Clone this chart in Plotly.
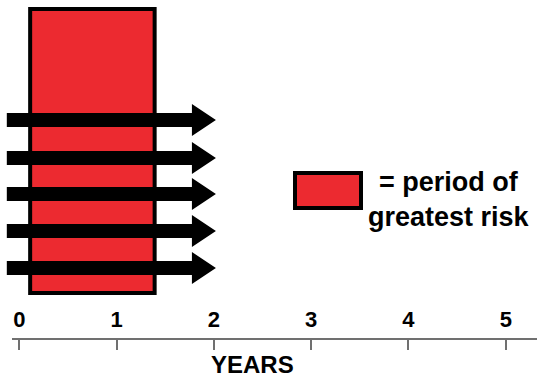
import plotly.graph_objects as go

# ---- data ----
year_ticks = [0, 1, 2, 3, 4, 5]
year_labels = ["0", "1", "2", "3", "4", "5"]
risk_start = 0.11      # years
risk_end = 1.39        # years
risk_low = 45          # vertical extent (arbitrary units above the axis)
risk_high = 329
arrow_start = -0.13    # years
arrow_end = 2.02       # years
arrow_rows = [218, 180, 144, 107, 70]
legend_text = "= period of<br>greatest risk"
axis_title = "YEARS"

# ---- styling ----
W, H = 537, 378
RED = "#EC2A30"
GREY = "#707070"
FONT = "Liberation Sans"
px_per_year = 97.26
zero_px = 19.45
axis_px = 338
shaft_half = 7
head_half = 16
head_len = 24 / px_per_year

x_range = [-zero_px / px_per_year, (W - zero_px) / px_per_year]
x2_left = 12
x2_range = [(x2_left - zero_px) / px_per_year, x_range[1]]

fig = go.Figure()

for r in arrow_rows:
    b = arrow_end - head_len
    xs = [arrow_start, b, b, arrow_end, b, b, arrow_start, arrow_start]
    ys = [r + shaft_half, r + shaft_half, r + head_half, r,
          r - head_half, r - shaft_half, r - shaft_half, r + shaft_half]
    fig.add_trace(go.Scatter(x=xs, y=ys, mode="lines", fill="toself",
                             fillcolor="black", line=dict(width=0, color="black"),
                             hoverinfo="skip", xaxis="x", yaxis="y"))

# axis trace (invisible point so the second subplot exists)
fig.add_trace(go.Scatter(x=[year_ticks[0]], y=[0], mode="markers",
                         marker=dict(opacity=0), hoverinfo="skip",
                         xaxis="x2", yaxis="y2"))

fig.add_shape(type="rect", xref="x", yref="y", x0=risk_start, x1=risk_end,
              y0=risk_low, y1=risk_high, fillcolor=RED,
              line=dict(color="black", width=4), layer="below")

# legend swatch
fig.add_shape(type="rect", xref="paper", yref="paper",
              x0=295 / W, x1=361 / W, y0=1 - 208 / H, y1=1 - 173 / H,
              fillcolor=RED, line=dict(color="black", width=4))
fig.add_annotation(text=legend_text, xref="paper", yref="paper",
                   x=449 / W, y=1 - 199 / H, showarrow=False, align="center",
                   font=dict(family=FONT, size=27, color="black", weight="bold"),
                   xanchor="center", yanchor="middle")

fig.add_annotation(text=axis_title, xref="paper", yref="paper",
                   x=252 / W, y=1 - 364 / H, showarrow=False,
                   font=dict(family=FONT, size=24, color="black", weight="bold"),
                   xanchor="center", yanchor="middle")

fig.update_layout(
    width=W, height=H, margin=dict(l=0, r=0, t=0, b=0),
    paper_bgcolor="white", plot_bgcolor="rgba(0,0,0,0)", showlegend=False,
    xaxis=dict(domain=[0, 1], range=x_range, visible=False, fixedrange=True),
    yaxis=dict(domain=[(H - axis_px) / H, 1], range=[0, axis_px], visible=False,
               fixedrange=True),
    xaxis2=dict(domain=[x2_left / W, 1], range=x2_range, anchor="y2",
                showline=True, linecolor=GREY, linewidth=2,
                ticks="outside", ticklen=10, tickwidth=1.5, tickcolor=GREY,
                tickvals=year_ticks, ticktext=year_labels,
                ticklabelposition="inside", ticklabelstandoff=8,
                tickfont=dict(family=FONT, size=22, color="black", weight="bold"),
                showgrid=False, zeroline=False, fixedrange=True),
    yaxis2=dict(domain=[(H - axis_px) / H, 0.2], range=[0, 1], visible=False,
                fixedrange=True, anchor="x2"),
)

fig.write_html("out.html", config={"displayModeBar": False},
               post_script="document.body.style.margin='0';document.body.style.overflow='hidden';")
